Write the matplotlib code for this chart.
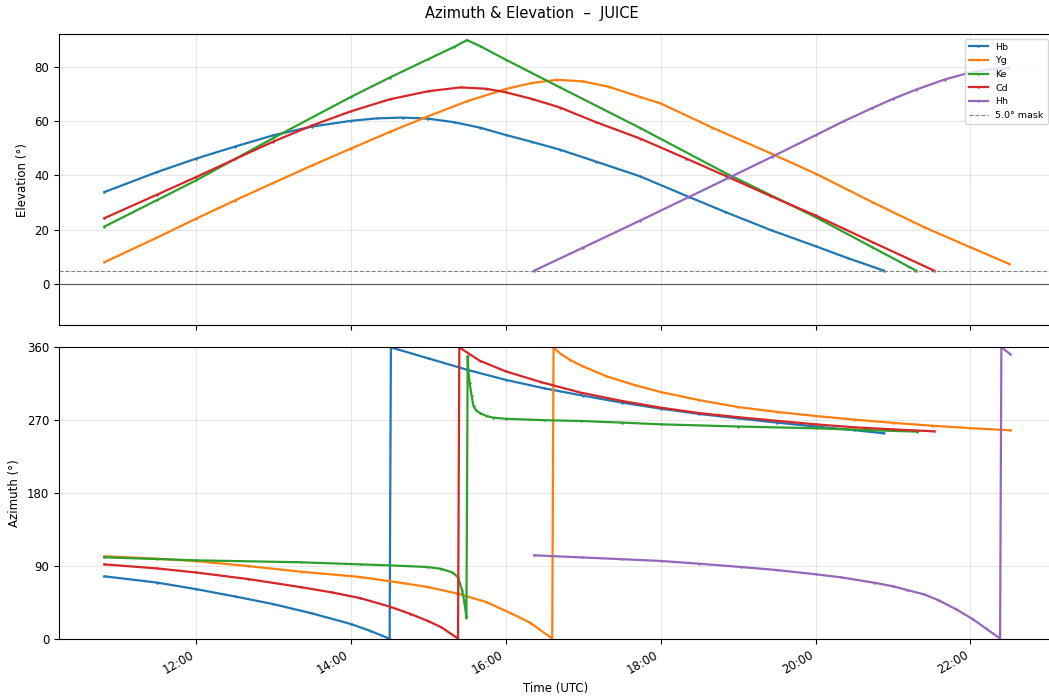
import matplotlib
matplotlib.use("Agg")
import matplotlib.pyplot as plt
import matplotlib.dates as mdates
import pandas as pd

# ---------------- data (UTC times, degrees) ----------------
stations = ["Hb", "Yg", "Ke", "Cd", "Hh"]
colors = ["#1f77b4", "#ff7f0e", "#2ca02c", "#d62728", "#9467bd"]
mask_deg = 5.0

# elevation
hb_el_t = ["10:49", "11:30", "12:00", "12:30", "13:00", "13:30", "14:00", "14:20", "14:40",
           "15:00", "15:20", "15:40", "16:00", "16:20", "16:42", "17:10", "17:44", "18:22",
           "18:50", "19:26", "20:00", "20:25", "20:53"]
hb_el = [33.9, 41.3, 46.2, 50.6, 54.8, 58.0, 60.1, 61.0, 61.3, 60.9, 59.6, 57.6, 54.9, 52.4,
         49.5, 45.1, 39.7, 32.1, 26.6, 19.8, 14.0, 9.6, 5.0]

yg_el_t = ["10:49", "11:30", "12:00", "12:30", "13:00", "13:30", "14:00", "14:30", "15:00",
           "15:30", "16:00", "16:20", "16:40", "17:00", "17:20", "17:44", "18:00", "18:40",
           "19:26", "20:00", "20:44", "21:24", "22:00", "22:30"]
yg_el = [8.1, 17.2, 24.1, 30.8, 37.3, 43.7, 49.9, 56.0, 61.8, 67.3, 71.8, 74.0, 75.2, 74.6,
         72.6, 68.9, 66.5, 57.6, 48.0, 40.7, 30.2, 21.0, 13.6, 7.5]

ke_el_t = ["10:49", "11:30", "12:00", "13:00", "14:00", "14:30", "15:00", "15:20", "15:30",
           "15:40", "16:00", "16:42", "17:44", "18:51", "20:00", "20:44", "21:18"]
ke_el = [21.2, 31.0, 38.2, 53.8, 68.9, 76.0, 82.8, 87.3, 89.8, 87.6, 82.6, 72.4, 57.5, 40.7,
         24.7, 13.6, 5.0]

cd_el_t = ["10:49", "11:30", "12:00", "12:30", "13:00", "13:30", "14:00", "14:30", "15:00",
           "15:25", "15:45", "16:00", "16:20", "16:42", "17:10", "17:44", "18:20", "18:51",
           "19:25", "20:00", "20:44", "21:32"]
cd_el = [24.3, 33.0, 39.4, 46.0, 52.5, 58.4, 63.6, 68.0, 71.0, 72.4, 71.9, 70.6, 68.2, 65.0,
         59.6, 53.6, 46.2, 39.7, 32.5, 25.3, 15.5, 5.0]

hh_el_t = ["16:22", "17:00", "17:44", "18:22", "18:53", "19:26", "20:00", "20:22", "20:44",
           "21:00", "21:18", "21:40", "22:00", "22:15", "22:30"]
hh_el = [5.0, 13.5, 23.4, 32.1, 39.2, 46.8, 54.8, 60.0, 64.8, 68.2, 71.6, 75.3, 77.9, 79.0, 79.4]

# azimuth
hb_az_t = ["10:49", "11:30", "12:00", "12:30", "13:00", "13:30", "14:00", "14:15", "14:30",
           "14:31", "15:00", "15:30", "16:00", "16:30", "17:00", "17:30", "18:00", "18:30",
           "19:00", "19:30", "20:00", "20:30", "20:53"]
hb_az = [77.3, 69.5, 61.5, 52.5, 43.0, 31.5, 18.5, 10.0, 0.3, 359.5, 346.0, 332.0, 319.5,
         309.0, 300.0, 291.5, 284.0, 277.5, 272.0, 266.8, 262.0, 257.5, 253.6]

yg_az_t = ["10:49", "11:30", "12:00", "12:40", "13:21", "14:07", "14:40", "15:00", "15:25",
           "15:45", "16:03", "16:19", "16:36", "16:37", "16:43", "16:50", "17:00", "17:18",
           "17:40", "18:00", "18:30", "19:00", "19:30", "20:00", "20:30", "21:00", "21:30",
           "22:00", "22:31"]
yg_az = [102.0, 99.0, 96.0, 90.0, 83.0, 76.5, 69.0, 64.0, 55.0, 45.5, 32.5, 20.0, 0.5, 359.3,
         351.0, 344.0, 336.0, 324.0, 313.0, 304.5, 294.5, 286.0, 280.0, 275.0, 270.5, 266.5,
         263.0, 260.0, 257.3]

ke_az_t = ["10:49", "12:00", "13:21", "14:07", "14:30", "14:59", "15:10", "15:19", "15:23",
           "15:26", "15:28", "15:29:30", "15:30:30", "15:31", "15:32", "15:33:30", "15:35",
           "15:37", "15:40", "15:45", "15:50", "16:00", "16:30", "16:58", "17:30", "18:00",
           "19:00", "20:00", "20:40", "21:19"]
ke_az = [100.7, 97.0, 94.6, 92.0, 90.8, 88.8, 86.5, 81.8, 76.0, 61.0, 45.0, 26.4, 349.0, 330.0,
         316.0, 300.0, 287.0, 282.0, 278.5, 275.0, 273.0, 271.5, 269.8, 268.8, 266.8, 264.7,
         262.0, 259.8, 257.5, 255.7]

cd_az_t = ["10:49", "11:30", "12:00", "12:40", "13:21", "13:45", "14:07", "14:30", "14:46",
           "15:00", "15:10", "15:23", "15:24", "15:40", "16:00", "16:27", "16:58", "17:30",
           "18:00", "18:30", "19:00", "19:30", "20:00", "20:30", "21:00", "21:32"]
cd_az = [92.0, 87.0, 82.0, 74.0, 64.0, 57.5, 50.5, 40.0, 31.0, 22.0, 14.5, 0.5, 359.5, 343.0,
         330.0, 316.9, 303.8, 293.5, 285.3, 278.5, 273.5, 269.0, 264.7, 261.0, 258.5, 256.0]

hh_az_t = ["16:22", "17:00", "17:30", "18:00", "18:30", "19:02", "19:30", "20:00", "20:20",
           "20:45", "21:00", "21:11", "21:24", "21:35", "21:49", "22:02", "22:12", "22:23",
           "22:24", "22:31"]
hh_az = [103.2, 100.5, 98.4, 96.2, 92.8, 88.8, 85.0, 79.8, 76.0, 69.5, 65.0, 60.4, 55.1, 48.0,
         36.6, 24.3, 13.0, 0.5, 359.9, 351.0]

el_t = [hb_el_t, yg_el_t, ke_el_t, cd_el_t, hh_el_t]
el_v = [hb_el, yg_el, ke_el, cd_el, hh_el]
az_t = [hb_az_t, yg_az_t, ke_az_t, cd_az_t, hh_az_t]
az_v = [hb_az, yg_az, ke_az, cd_az, hh_az]

day = "2024-01-01 "


def tt(lst):
    return pd.to_datetime([day + s for s in lst], format="mixed")


# ---------------- figure ----------------
fig = plt.figure(figsize=(10.49, 6.96), dpi=100)
ax1 = fig.add_axes([0.0562, 0.533, 0.947, 0.418])
ax2 = fig.add_axes([0.0562, 0.0819, 0.947, 0.4195], sharex=ax1)

for name, c, t, v in zip(stations, colors, el_t, el_v):
    ax1.plot(tt(t), v, color=c, lw=1.6, marker=".", markersize=1.5, label=name)
ax1.axhline(mask_deg, color="gray", ls="--", lw=0.8, label=f"{mask_deg:.1f}° mask")
ax1.axhline(0, color="#555555", lw=0.8)

for name, c, t, v in zip(stations, colors, az_t, az_v):
    ax2.plot(tt(t), v, color=c, lw=1.6, marker=".", markersize=1.5)

ax1.set_ylim(-15, 92)
ax1.set_yticks([0, 20, 40, 60, 80])
ax1.set_ylabel("Elevation (°)", fontsize=8.5)
ax1.legend(loc="upper right", fontsize=6.8, framealpha=0.8)

ax2.set_ylim(0, 360)
ax2.set_yticks([0, 90, 180, 270, 360])
ax2.set_ylabel("Azimuth (°)", fontsize=8.5)
ax2.set_xlabel("Time (UTC)", fontsize=8.5)

ax1.set_xlim(pd.Timestamp(day + "10:13:48"), pd.Timestamp(day + "23:03:30"))
ax2.xaxis.set_major_locator(mdates.HourLocator(byhour=range(0, 24, 2)))
ax2.xaxis.set_major_formatter(mdates.DateFormatter("%H:%M"))

for ax in (ax1, ax2):
    ax.grid(True, alpha=0.3)
    ax.tick_params(labelsize=8.5)
plt.setp(ax1.get_xticklabels(), visible=False)
plt.setp(ax2.get_xticklabels(), rotation=30, ha="right")

fig.text(0.507, 0.981, "Azimuth & Elevation  –  JUICE", ha="center", va="center", fontsize=10.5)

fig.savefig("out.png", dpi=100)
